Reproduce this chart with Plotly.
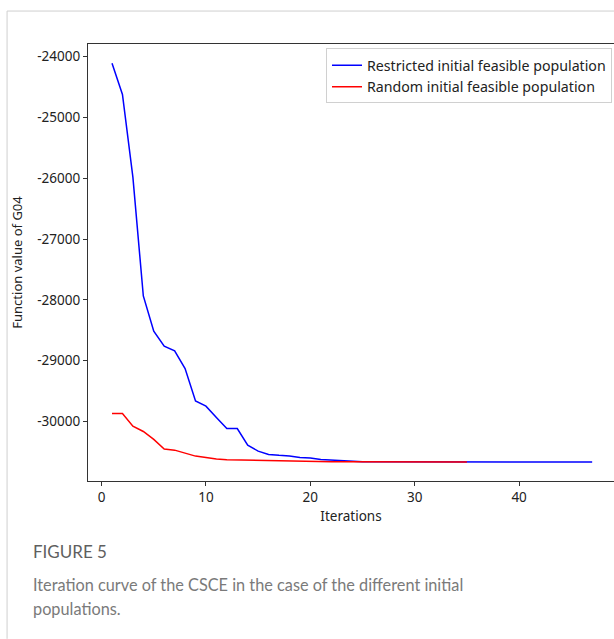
import plotly.graph_objects as go

# ---- data ----
iter_restricted = list(range(1, 48))
val_restricted = [
    -24110, -24624, -25982, -27936, -28516, -28762, -28839, -29129, -29660, -29747,
    -29933, -30114, -30114, -30388, -30486, -30540, -30555, -30565, -30590, -30600,
    -30625, -30635, -30645, -30655, -30660, -30662, -30663, -30664, -30665, -30665,
    -30665, -30665, -30665, -30665, -30665, -30665, -30665, -30665, -30665, -30665,
    -30665, -30665, -30665, -30665, -30665, -30665, -30665,
]
iter_random = list(range(1, 36))
val_random = [
    -29867, -29867, -30075, -30163, -30294, -30453, -30470, -30525, -30568, -30590,
    -30617, -30629, -30633, -30637, -30642, -30645, -30648, -30651, -30653, -30655,
    -30657, -30659, -30660, -30661, -30662, -30663, -30663, -30664, -30664, -30665,
    -30665, -30665, -30665, -30665, -30665,
]
x_ticks = [0, 10, 20, 30, 40]
y_ticks = [-24000, -25000, -26000, -27000, -28000, -29000, -30000]
y_tick_labels = ["-24000", "-25000", "-26000", "-27000", "-28000", "-29000", "-30000"]

W, H = 614, 639
L, T, R, B = 87.5, 43.5, 614, 481
FONT = "Noto Sans"

fig = go.Figure()
fig.add_trace(go.Scatter(x=iter_restricted, y=val_restricted, mode="lines",
                         name="Restricted initial feasible population",
                         line=dict(color="#0000ff", width=1.5)))
fig.add_trace(go.Scatter(x=iter_random, y=val_random, mode="lines",
                         name="Random initial feasible population",
                         line=dict(color="#ff0000", width=1.5)))

def px(xp):
    return (xp - L) / (R - L)

def py(yp):
    return 1 - (yp - T) / (B - T)

fig.update_layout(
    width=W, height=H,
    margin=dict(l=L, r=W - R, t=T, b=H - B, pad=0),
    paper_bgcolor="white", plot_bgcolor="white",
    font=dict(family=FONT, size=13, color="#222"),
    showlegend=True,
    legend=dict(x=px(612), y=py(48), xanchor="right", yanchor="top",
                bgcolor="white", bordercolor="#d0d0d0", borderwidth=1,
                font=dict(family=FONT, size=14.2, color="#222"),
                tracegroupgap=0, itemwidth=30),
    xaxis=dict(range=[-1.3, (R - 101) / 10.45], tickvals=x_ticks,
               ticks="outside", ticklen=4, tickcolor="#333", tickwidth=1,
               showline=True, linecolor="#333", linewidth=1.3, mirror=True,
               showgrid=False, zeroline=False,
               title=dict(text="Iterations", font=dict(size=13.5), standoff=6),
               tickfont=dict(size=13.5)),
    yaxis=dict(range=[-30977, -23795], tickvals=y_ticks, ticktext=y_tick_labels,
               ticks="outside", ticklen=4, tickcolor="#333", tickwidth=1,
               showline=True, linecolor="#333", linewidth=1.3, mirror=False,
               showgrid=False, zeroline=False,
               title=dict(text="Function value of G04", font=dict(size=13), standoff=11),
               tickfont=dict(size=13.5)),
)

# card border (top and left)
fig.add_shape(type="line", xref="paper", yref="paper",
              x0=px(6.5), x1=px(614), y0=py(10.5), y1=py(10.5),
              line=dict(color="#cfcfcf", width=1))
fig.add_shape(type="line", xref="paper", yref="paper",
              x0=px(6.5), x1=px(6.5), y0=py(10.5), y1=py(639),
              line=dict(color="#cfcfcf", width=1))

# caption
fig.add_annotation(xref="paper", yref="paper", x=px(30), y=py(552), xanchor="left",
                   yanchor="middle", showarrow=False, text="FIGURE 5",
                   font=dict(family="Lato", size=17, color="#5f5f5f"))
fig.add_annotation(xref="paper", yref="paper", x=px(30), y=py(585), xanchor="left",
                   yanchor="middle", showarrow=False,
                   text="Iteration curve of the CSCE in the case of the different initial",
                   font=dict(family="Lato", size=16.3, color="#7a7a7a"))
fig.add_annotation(xref="paper", yref="paper", x=px(30), y=py(609), xanchor="left",
                   yanchor="middle", showarrow=False, text="populations.",
                   font=dict(family="Lato", size=16.3, color="#7a7a7a"))

fig.write_html("out.html")
